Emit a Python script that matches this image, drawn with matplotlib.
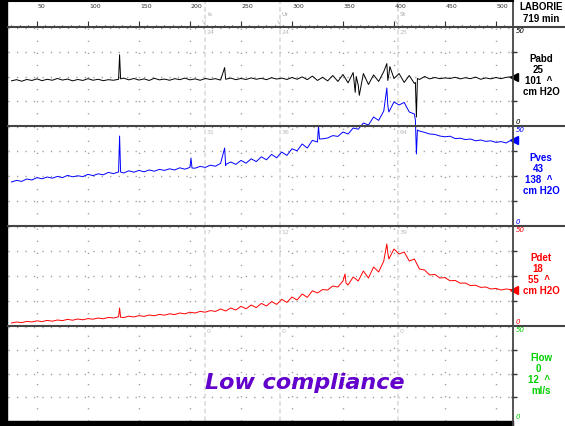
"""Urodynamic filling trace (Pabd / Pves / Pdet / Flow) -- low compliance."""
import numpy as np
import matplotlib

matplotlib.use("Agg")
import matplotlib.pyplot as plt  # noqa: E402
from matplotlib.lines import Line2D  # noqa: E402
from matplotlib.patches import Rectangle  # noqa: E402

W, H = 565, 426
T0, T1 = 21.6, 516.7          # visible time window [s]

# ---- data (cm H2O, sampled every 5 s from 25 s to 515 s) ----
t_grid = np.arange(25, 516, 5)

pabd = [22.8, 23.4, 22.6, 23.5, 23.0, 23.8, 22.9, 23.6, 23.1, 24.0, 23.2, 23.7, 22.8, 23.5, 23.0, 23.9, 23.1, 23.6, 22.9, 23.4, 23.1,
        23.6, 24.2, 23.3, 24.0, 23.2, 23.8, 23.0, 24.1, 23.3, 23.7, 23.1, 23.9, 23.4, 24.2, 23.3, 23.8, 23.1, 24.0, 23.5, 23.9,
        23.2, 23.6, 24.2, 23.4, 24.0, 23.5, 24.3, 23.6, 24.1, 23.4, 24.4, 23.7, 24.2, 23.5, 24.5, 23.6, 24.8, 23.4, 25.2, 23.0,
        24.6, 22.8, 25.5, 22.5, 26.0, 21.8, 27.0, 20.5, 26.5, 21.0, 25.8, 22.5, 27.5, 26.0, 24.0, 26.5, 22.0, 25.5, 21.5, 23.5,
        25.0, 23.8, 24.5, 23.9, 24.3, 24.0, 24.6, 23.8, 24.4, 23.9, 24.7, 23.6, 24.3, 23.8, 24.5, 23.9, 24.6, 24.8]
pves = [22.0, 22.8, 22.3, 23.5, 23.0, 24.2, 23.6, 24.5, 23.9, 24.8, 24.2, 25.3, 24.6, 25.1, 24.7, 25.8, 25.2, 26.1, 25.6, 26.8, 26.2,
        27.0, 26.5, 27.6, 26.9, 27.8, 27.1, 28.0, 27.4, 28.3, 27.8, 28.6, 28.0, 29.1, 28.4, 29.3, 28.9, 29.8, 29.3, 30.4, 29.9,
        31.3, 30.2, 32.0, 30.8, 32.8, 31.4, 33.6, 32.2, 34.6, 33.1, 35.8, 34.1, 37.0, 35.3, 38.6, 37.6, 41.0, 39.0, 42.8, 42.0,
        43.6, 44.0, 45.2, 44.8, 47.0, 46.0, 49.0, 48.4, 51.5, 50.5, 54.5, 52.8, 57.5, 57.0, 62.0, 60.5, 61.8, 57.0, 56.0, 47.5,
        46.8, 46.0, 45.8, 45.0, 44.6, 44.9, 43.7, 43.9, 43.2, 43.5, 42.6, 43.0, 42.3, 42.6, 41.8, 42.2, 41.5, 43.0]
pdet = [1.5, 2.0, 1.7, 2.3, 2.0, 2.6, 2.2, 2.8, 2.4, 3.0, 2.7, 3.3, 2.9, 3.5, 3.1, 3.7, 3.4, 4.0, 3.6, 4.3, 4.0,
        4.6, 4.2, 4.9, 4.5, 5.2, 4.8, 5.5, 5.1, 5.8, 5.4, 6.1, 5.7, 6.5, 6.1, 6.9, 6.5, 7.3, 6.9, 7.7, 7.3,
        8.5, 7.5, 9.0, 8.0, 9.8, 8.6, 10.5, 9.2, 11.3, 10.0, 12.2, 10.8, 13.3, 11.8, 14.5, 13.0, 16.0, 14.3, 17.6, 16.5,
        18.2, 18.0, 20.0, 19.5, 22.5, 20.5, 24.5, 22.5, 27.5, 24.0, 29.5, 27.0, 32.5, 33.5, 38.5, 36.0, 37.0, 32.5, 33.5, 28.5,
        28.0, 25.5, 25.8, 24.0, 24.2, 22.6, 22.8, 21.4, 21.5, 20.2, 20.4, 19.3, 19.5, 18.5, 18.8, 18.0, 18.5, 18.2]

# artefact spikes (cough / movement), extra samples between the 5 s grid
pabd_spike_t = [131, 132, 234, 235, 362, 363, 366, 393, 394, 396, 421, 422, 423]
pabd_spike_v = [36.0, 23.8, 29.5, 23.6, 17.0, 25.0, 15.5, 31.5, 23.0, 30.0, 22.0, 4.5, 24.0]
pves_spike_t = [131, 132, 201, 202, 234, 235, 326, 327, 393, 394, 421, 422, 423]
pves_spike_v = [45.0, 27.0, 34.0, 29.0, 39.0, 30.8, 50.0, 43.5, 69.0, 60.0, 53.0, 36.0, 48.0]
pdet_spike_t = [131, 132, 352, 353, 393, 394]
pdet_spike_v = [9.0, 4.4, 26.0, 21.5, 41.0, 36.5]

event_t = [214.6, 288.1, 403.7]
event_names = ["Is", "Ur", "St"]
pabd_at_event = ["24", "24", "25"]
pves_at_event = ["31", "36", "64"]
pdet_at_event = ["7", "12", "39"]
flow_at_event = ["0", "0", "0"]

BLACK, BLUE, RED, GREEN = "#000000", "#0000ff", "#ff0000", "#00d000"
PURPLE = "#6200cc"
LINE = "#444444"
LABEL_FONT = ["Liberation Sans", "DejaVu Sans"]


def fx(x):
    return x / W


def fy(y):
    return 1 - y / H


def merged(vals, st, sv):
    t = np.concatenate([t_grid, st]).astype(float)
    v = np.concatenate([vals, sv]).astype(float)
    o = np.argsort(t, kind="stable")
    return t[o], v[o]


fig = plt.figure(figsize=(W / 100, H / 100), dpi=100)


def panel(top, bottom):
    ax = fig.add_axes([fx(8), fy(bottom), fx(505), (bottom - top) / H])
    ax.set_xlim(T0, T1)
    ax.set_axis_off()
    return ax


majors = np.arange(50, 501, 50)

# ruler
rax = panel(1, 27)
rax.set_ylim(0, 26)
rax.vlines(np.arange(T0 + 3.4, T1, 50 / 6), 0, 2.5, color="#333", lw=0.8)
rax.vlines(majors, 0, 6, color="#333", lw=0.8)
for m in majors:
    rax.text(m + 1, 21, str(m), fontsize=4.5, color="#333", ha="left", va="center")
for te, nm in zip(event_t, event_names):
    rax.axvline(te, color="#d4d4d4", ls=(0, (3, 2)), lw=1.1)
    rax.text(te + 2, 12, nm, fontsize=4.5, color="#aaa", ha="left", va="center")
    rax.text(te - 0.5, 5, "V", fontsize=4.5, color="#bbb", ha="center", va="center")

channels = [
    # top, bottom, name, current, max, unit, colour, trace, labels at events
    (27, 126, "Pabd", "25", "101", "cm H2O", BLACK, merged(pabd, pabd_spike_t, pabd_spike_v), pabd_at_event, "0"),
    (126, 226, "Pves", "43", "138", "cm H2O", BLUE, merged(pves, pves_spike_t, pves_spike_v), pves_at_event, "0"),
    (226, 326, "Pdet", "18", "55", "cm H2O", RED, merged(pdet, pdet_spike_t, pdet_spike_v), pdet_at_event, "0"),
    (326, 421, "Flow", "0", "12", "ml/s", GREEN, None, flow_at_event, "0"),
]

for top, bot, name, cur, mx, unit, col, trace, ev_lab, low in channels:
    ax = panel(top, bot)
    ax.set_ylim(0, 50)
    for q in (12.5, 25, 37.5):
        ax.axhline(q, color="#9a9a9a", lw=1.0, ls=(0, (0.9, 5.2)))
    ax.axhline(49.4, color="#9a9a9a", lw=1.0, ls=(0, (0.9, 5.2)))
    for m in majors:
        ax.axvline(m, color="#9a9a9a", lw=1.0, ls=(0, (0.9, 7.8)))
    for te, lab in zip(event_t, ev_lab):
        ax.axvline(te, color="#d8d8d8", ls=(0, (3, 2)), lw=1.1)
        ax.text(te + 1.5, 47, lab, fontsize=4.5, color="#bbb", ha="left", va="center")
    if trace is not None:
        ax.plot(trace[0], trace[1], color=col, lw=0.7, clip_on=False, zorder=3)
        ax.plot([517.6], [trace[1][-1]], marker="<", ms=6, color=col,
                clip_on=False, zorder=4)
    for q in (12.5, 25, 37.5):
        ax.plot([517.5], [q], marker="_", ms=4, color="#333", clip_on=False)

    # scale + labels on the right
    fig.text(fx(516), fy(top + 4), "50", fontsize=5, style="italic", color=col,
             ha="left", va="center")
    fig.text(fx(516), fy(bot - 4), low, fontsize=5, style="italic", color=col,
             ha="left", va="center")
    ymid = top + 32
    kw = dict(fontsize=7, fontweight="bold", color=col, ha="center",
              va="center", family=LABEL_FONT)
    fig.text(fx(541), fy(ymid), name, **kw)
    fig.text(fx(538), fy(ymid + 11), cur, **kw)
    fig.text(fx(539), fy(ymid + 22), mx + "  ^", **kw)
    fig.text(fx(541), fy(ymid + 33), unit, **kw)

# frame lines
for y in (27, 126, 226, 326):
    fig.add_artist(Line2D([fx(8), 1], [fy(y), fy(y)], color=LINE, lw=1.5))
fig.add_artist(Line2D([fx(513), fx(513)], [0, 1], color=LINE, lw=1.3))
fig.add_artist(Rectangle((0, 0), fx(7), 1, transform=fig.transFigure, color="black"))
fig.add_artist(Rectangle((0, 0), fx(513), 5 / H, transform=fig.transFigure, color="black"))
fig.add_artist(Line2D([0, fx(513)], [fy(0.7), fy(0.7)], color="black", lw=1.5))

fig.text(fx(541), fy(7), "LABORIE", fontsize=7, fontweight="bold", ha="center",
         va="center", family=LABEL_FONT)
fig.text(fx(541), fy(19), "719 min", fontsize=7, fontweight="bold", ha="center",
         va="center", family=LABEL_FONT)

fig.text(fx(305), fy(383), "Low compliance", fontsize=16, fontweight="bold",
         style="italic", color=PURPLE, ha="center", va="center")

fig.savefig("out.png", dpi=100)
